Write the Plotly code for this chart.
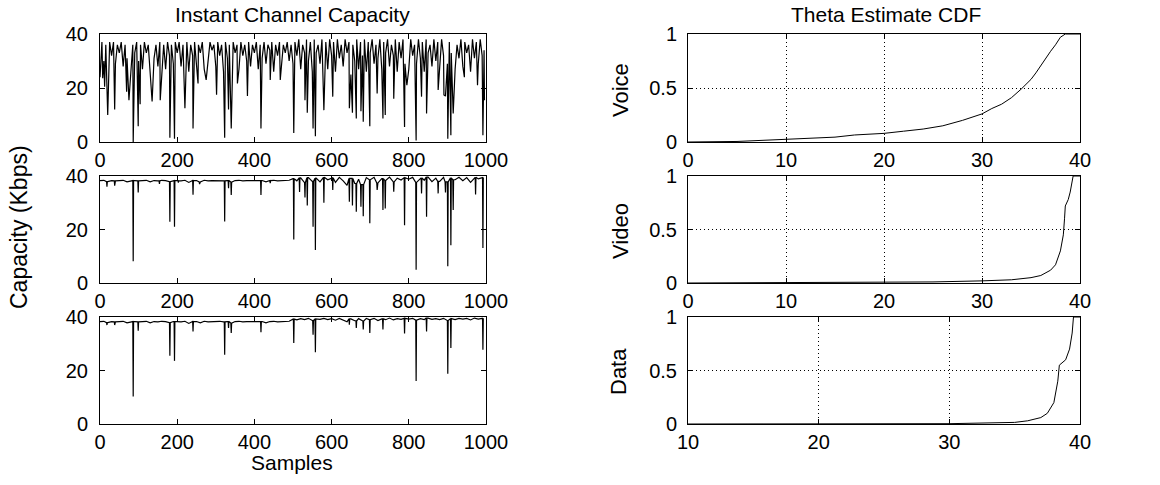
import plotly.graph_objects as go

# ---------------- data ----------------
# Voice capacity: base level every 5 samples
voice_base = [
    24,37,30,36,27,37,32,37,29,36,33,37,28,36,31,37,26,36,33,37,
    30,36,27,37,33,36,25,37,31,36,28,37,34,36,27,37,32,36,29,37,
    33,37,28,36,31,37,26,36,32,37,29,36,33,37,27,36,30,37,34,36,
    28,37,32,36,26,37,31,36,29,37,33,36,27,37,32,36,30,37,28,36,
    33,37,27,36,31,37,29,36,34,37,26,36,32,37,28,36,33,37,30,36,
    29,37,32,38,27,36,33,38,30,37,26,38,33,36,29,38,31,37,27,38,
    32,37,26,38,31,36,28,38,33,37,25,36,30,38,27,37,32,38,26,37,
    33,38,29,36,31,38,27,37,33,38,28,36,32,38,26,37,31,38,29,37,
    27,38,32,36,29,38,31,37,26,38,33,36,28,38,30,37,27,38,32,36,
    29,37,33,38,27,36,31,38,28,37,33,36,26,38,31,37,29,38,32,34,
]
voice_dip_idx = [7,12,20,38,69,75,86,99,104,135,156,160,181,193,220,241,254,275,302,323,
                 333,340,356,382,417,441,467,502,531,537,552,558,580,603,646,654,664,676,682,699,
                 718,733,739,761,789,795,819,833,846,876,891,895,901,909,915,944,978,992,996]
voice_dip_val = [23.6,20.5,10,12,18.6,15.5,0,5.8,14,15,15.5,23,1.6,1.2,12.5,5,21.7,23,17.5,1.6,
                 12,5,21.7,17,5,23,23,3.3,15.5,10.8,5,2.1,11.8,16.8,12.5,10.8,8.7,11.4,7.5,5.8,
                 18,8.7,10,16,5.6,21,0.6,16.8,10.6,19.3,17.4,17,1.2,2.5,10.6,24,21,2.5,15.5]

# Video capacity: base level every 10 samples
video_base = [
    38.3,38.4,37.9,38.3,38.2,38.3,38.4,37.8,38.3,38.3,
    38.2,38.3,38.4,37.8,38.3,38.2,38.4,38.3,37.9,38.3,
    38.3,38.2,38.4,37.6,38.3,38.3,37.8,38.4,38.2,38.3,
    38.3,38.4,38.2,38.3,37.7,38.3,38.4,38.2,38.3,38.3,
    38.4,38.2,38.3,37.8,38.3,38.4,38.2,38.3,38.3,38.4,
    39.0,38.2,39.3,37.5,39.4,38.0,39.2,37.8,39.5,38.6,
    39.3,37.6,39.5,38.2,36.5,39.1,37.2,38.8,36.8,39.4,
    38.6,39.5,37.4,39.0,38.3,39.6,37.8,39.2,38.5,39.4,
    38.8,39.5,37.6,39.3,38.4,39.6,37.9,39.2,38.0,39.5,
    37.8,39.3,38.6,39.5,38.2,39.4,37.6,39.5,38.9,39.4,
]
video_dip_idx = [18,38,86,99,154,181,193,203,241,258,323,333,340,417,441,502,517,531,537,552,
                 558,580,603,646,654,664,676,682,699,718,733,739,761,789,819,833,846,876,895,901,
                 909,915,973,992]
video_dip_val = [36,36.4,8.1,33.8,37,22.9,21,37.5,33,37,23,35.4,32.9,32.9,37.3,16.3,34,32,29,21,
                 12.3,30,34.8,30.4,29,26.6,28.5,25,22.3,34.8,27.3,27.9,34.1,21.6,5,33.5,24.8,33.5,33.8,6.3,
                 14.1,27.3,33.1,13.1]

# Data capacity: base level every 10 samples
data_base = [
    38.3,38.4,37.9,38.3,38.2,38.3,38.4,37.8,38.3,38.3,
    38.2,38.3,38.4,37.8,38.3,38.2,38.4,38.3,37.9,38.3,
    38.3,38.2,38.4,37.6,38.3,38.3,37.8,38.4,38.2,38.3,
    38.3,38.4,38.2,38.3,37.7,38.3,38.4,38.2,38.3,38.3,
    38.4,38.2,38.3,37.8,38.3,38.4,38.2,38.3,38.3,38.4,
    39.2,38.9,39.4,39.0,39.5,38.7,39.3,39.1,39.5,39.0,
    39.4,38.8,39.5,39.0,38.2,39.3,38.6,39.4,38.5,39.5,
    39.0,39.5,38.7,39.3,39.0,39.6,38.9,39.4,39.1,39.5,
    39.2,39.5,38.8,39.4,39.0,39.6,39.1,39.4,39.0,39.5,
    38.7,39.4,39.0,39.5,39.2,39.5,38.9,39.6,39.2,39.5,
]
data_dip_idx = [18,38,86,99,181,193,241,323,333,340,417,502,552,558,646,664,682,699,733,789,
                819,846,901,909,992]
data_dip_val = [37,37,10.3,34.9,25.5,23.6,34.6,25.9,35.9,34,34.3,30.3,33.4,26.8,37.1,35.9,35.3,34,35.3,33.8,
                16.1,34.6,18.8,28.4,27.8]

# Theta estimate CDFs
voice_cdf_x = [0,5,10,15,17,20,22,24,26,28,30,31,32,33,34,35,35.5,36,37,37.5,38,38.5,39,40]
voice_cdf_y = [0,0.005,0.025,0.045,0.065,0.08,0.1,0.12,0.15,0.2,0.26,0.31,0.35,0.41,0.49,0.58,0.64,0.71,0.84,0.9,0.97,1,1,1]
video_cdf_x = [0,15,20,25,30,33,35,36,37,37.5,38,38.3,38.42,38.5,38.8,39,39.3,40]
video_cdf_y = [0,0.002,0.005,0.01,0.02,0.03,0.05,0.07,0.12,0.17,0.3,0.45,0.6,0.72,0.78,0.85,1,1]
data_cdf_x = [10,30,35,36,37,37.5,38,38.3,38.42,38.5,38.9,39.2,39.4,39.5,40]
data_cdf_y = [0,0.003,0.015,0.03,0.06,0.1,0.2,0.4,0.55,0.56,0.6,0.7,0.85,1,1]

left_xticks = [0,200,400,600,800,1000]
left_yticks = [0,20,40]
right_yticks = [0,0.5,1]
right_xticks = [0,10,20,30,40]
data_xticks = [10,20,30,40]


def build(step, base, dip_idx, dip_val, neighbours):
    pts = {i * step: v for i, v in enumerate(base)}
    for i, v in zip(dip_idx, dip_val):
        b = base[min(len(base) - 1, round(i / step))]
        if neighbours:
            pts.setdefault(i - 1, b)
            pts.setdefault(i + 1, b)
        pts[i] = v
    xs = sorted(pts)
    return xs, [pts[x] for x in xs]


FONT = "Liberation Sans, Arial, sans-serif"
fig = go.Figure()

series = [
    build(5, voice_base, voice_dip_idx, voice_dip_val, False),
    build(10, video_base, video_dip_idx, video_dip_val, True),
    build(10, data_base, data_dip_idx, data_dip_val, True),
]
cdfs = [(voice_cdf_x, voice_cdf_y), (video_cdf_x, video_cdf_y), (data_cdf_x, data_cdf_y)]

W, H = 1160, 485
rows = [(34, 142), (176, 283), (317, 424)]
left_dom = [100 / W, 486 / W]
right_dom = [688 / W, 1080 / W]

layout = dict(
    width=W, height=H, margin=dict(l=0, r=0, t=0, b=0, autoexpand=False),
    paper_bgcolor="white", plot_bgcolor="white", showlegend=False,
    font=dict(family=FONT, size=20, color="black"),
)

axis_common = dict(
    showline=True, linecolor="black", linewidth=1, mirror="ticks",
    ticks="inside", ticklen=5, tickcolor="black", tickwidth=1,
    zeroline=False, automargin=False,
    tickfont=dict(family=FONT, size=20, color="black"),
)

for r, (top, bot) in enumerate(rows):
    ydom = [1 - bot / H, 1 - top / H]
    # left panel
    n = 2 * r + 1
    xa = "x" if n == 1 else f"x{n}"
    ya = "y" if n == 1 else f"y{n}"
    xs, ys = series[r]
    fig.add_trace(go.Scatter(x=xs, y=ys, mode="lines", line=dict(color="black", width=1.2),
                             xaxis=xa, yaxis=ya, hoverinfo="skip"))
    layout["xaxis" + ("" if n == 1 else str(n))] = dict(
        axis_common, domain=left_dom, anchor=ya, range=[0, 1000], tickvals=left_xticks,
        showgrid=False, ticklabelstandoff=0)
    layout["yaxis" + ("" if n == 1 else str(n))] = dict(
        axis_common, domain=ydom, anchor=xa, range=[0, 40], tickvals=left_yticks,
        showgrid=False, ticklabelstandoff=7)
    # right panel
    m = 2 * r + 2
    xa2, ya2 = f"x{m}", f"y{m}"
    cx, cy = cdfs[r]
    fig.add_trace(go.Scatter(x=cx, y=cy, mode="lines", line=dict(color="black", width=1),
                             xaxis=xa2, yaxis=ya2, hoverinfo="skip"))
    xr = [10, 40] if r == 2 else [0, 40]
    xt = data_xticks if r == 2 else right_xticks
    layout[f"xaxis{m}"] = dict(
        axis_common, domain=right_dom, anchor=ya2, range=xr, tickvals=xt,
        showgrid=True, gridcolor="black", griddash="1px,3px", gridwidth=1, ticklabelstandoff=0)
    layout[f"yaxis{m}"] = dict(
        axis_common, domain=ydom, anchor=xa2, range=[0, 1], tickvals=right_yticks,
        ticktext=["0", "0.5", "1"], showgrid=True, gridcolor="black", griddash="1px,3px",
        gridwidth=1, ticklabelstandoff=6)

fig.update_layout(**layout)

ann = [
    dict(text="Instant Channel Capacity", x=292 / W, y=1 - 14 / H, size=21),
    dict(text="Theta Estimate CDF", x=886 / W, y=1 - 14 / H, size=21),
    dict(text="Samples", x=292 / W, y=1 - 462 / H, size=21),
]
for a in ann:
    fig.add_annotation(text=a["text"], x=a["x"], y=a["y"], xref="paper", yref="paper",
                       xanchor="center", yanchor="middle", showarrow=False,
                       font=dict(family=FONT, size=a["size"], color="black"))

vlabels = [
    ("Capacity (Kbps)", 19, 227, 23),
    ("Voice", 620, 90, 22),
    ("Video", 620, 231, 22),
    ("Data", 618, 372, 22),
]
for t, px, py, sz in vlabels:
    fig.add_annotation(text=t, x=px / W, y=1 - py / H, xref="paper", yref="paper",
                       xanchor="center", yanchor="middle", showarrow=False, textangle=-90,
                       font=dict(family=FONT, size=sz, color="black"))

fig.write_html("out.html", config={"displayModeBar": False, "staticPlot": True},
               post_script="document.body.style.margin='0';document.body.style.padding='0';")
